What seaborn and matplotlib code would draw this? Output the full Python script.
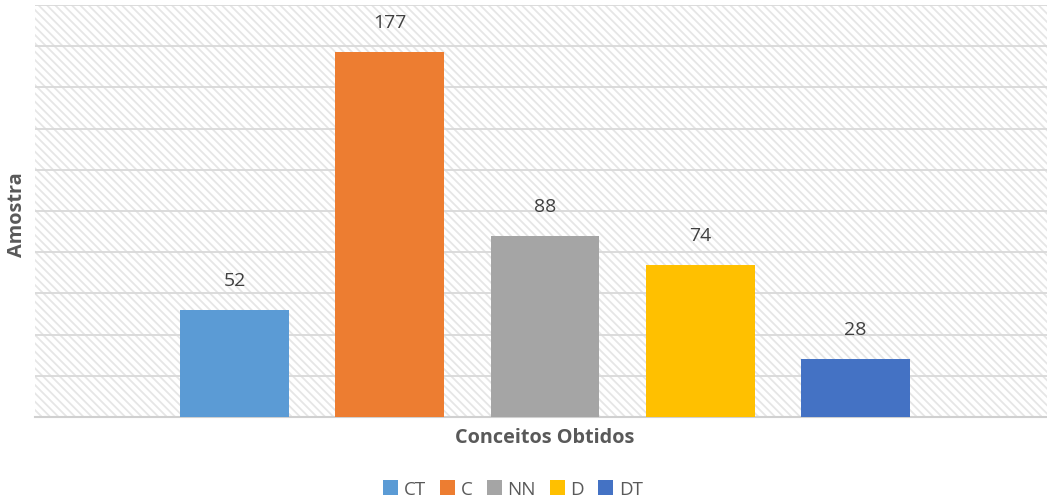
import matplotlib
matplotlib.use('Agg')
import matplotlib.pyplot as plt
from matplotlib.patches import Patch, Rectangle
import pandas as pd
import seaborn as sns

# data
conceitos = ['CT', 'C', 'NN', 'D', 'DT']
amostra = [52, 177, 88, 74, 28]
cores = ['#5B9BD5', '#ED7D31', '#A5A5A5', '#FFC000', '#4472C4']

df = pd.DataFrame({'Conceito': conceitos, 'Amostra': amostra})

sns.set_style('white')
plt.rcParams['font.family'] = ['Open Sans', 'DejaVu Sans']
plt.rcParams['hatch.color'] = '#e6e6e6'
plt.rcParams['hatch.linewidth'] = 1.3

fig = plt.figure(figsize=(10.47, 5.02), dpi=100)
ax = fig.add_axes([35 / 1047, 84 / 502, 1012 / 1047, 412 / 502])

# hatched background like the Excel plot area
ax.add_patch(Rectangle((0, 0), 1, 1, transform=ax.transAxes, facecolor='white',
                       edgecolor='#e6e6e6', hatch='\\' * 4, linewidth=0, zorder=0))

sns.barplot(data=df, x='Conceito', y='Amostra', hue='Conceito', palette=cores,
            width=0.70, legend=False, saturation=1, linewidth=0, ax=ax, zorder=3)

ax.set_ylim(0, 200)
ax.set_yticks(range(0, 201, 20))
ax.set_xlim(-1.285, 5.233)
ax.yaxis.grid(True, color='#d9d9d9', linewidth=1.3, zorder=1)
ax.set_axisbelow(True)
ax.tick_params(left=False, bottom=False, labelleft=False, labelbottom=False)
for side in ['top', 'right', 'left']:
    ax.spines[side].set_visible(False)
ax.spines['bottom'].set_color('#d0d0d0')
ax.spines['bottom'].set_linewidth(1.5)

for i, v in enumerate(amostra):
    ax.annotate(str(v), (i, v), xytext=(0, 30), textcoords='offset pixels',
                ha='center', va='center', fontsize=14, color='#404040')

ax.set_xlabel('')
ax.set_ylabel('')
fig.text(545 / 1047, 1 - 438 / 502, 'Conceitos Obtidos', ha='center', va='center',
         fontsize=14.3, fontweight='bold', color='#595959')
fig.text(17 / 1047, 1 - 215 / 502, 'Amostra', ha='center', va='center', rotation=90,
         fontsize=14.3, fontweight='bold', color='#595959')

handles = [Patch(facecolor=c, edgecolor='none') for c in cores]
fig.legend(handles, conceitos, loc='center', bbox_to_anchor=(513 / 1047, 1 - 490 / 502),
           ncol=5, frameon=False, fontsize=13.5, labelcolor='#595959',
           handlelength=0.8, handleheight=0.8, handletextpad=0.3, columnspacing=0.75)

fig.savefig('out.png', dpi=100)
